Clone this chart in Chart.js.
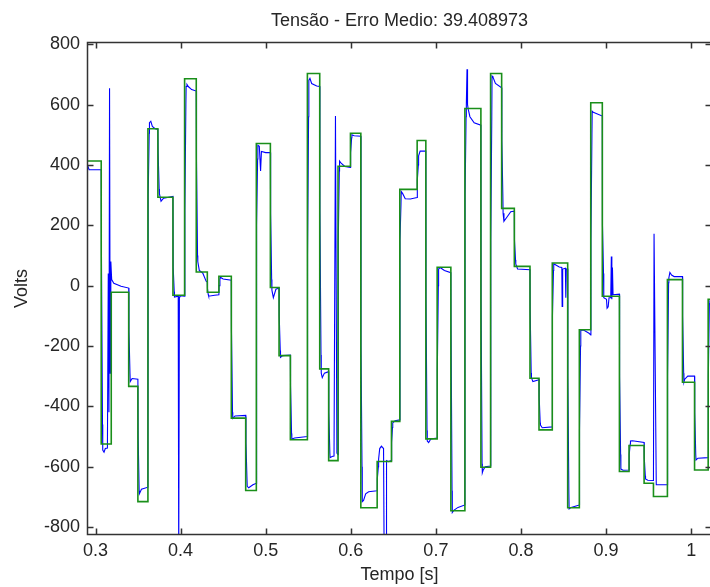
<!DOCTYPE html>
<html>
<head>
<meta charset="utf-8">
<script src="https://cdn.jsdelivr.net/npm/chart.js@4.4.0/dist/chart.umd.min.js"></script>
<style>
  html, body { margin: 0; padding: 0; background: #fff; overflow: hidden; }
  #wrap { width: 710px; height: 587px; overflow: hidden; }
</style>
</head>
<body>
<div id="wrap"><canvas id="myCanvas" width="714" height="587"></canvas></div>
<script>
// reference (green): step start times [s] and levels [V]
var refTimes = [
  0.2900, 0.3067, 0.3185, 0.3390, 0.3498, 0.3616, 0.3733, 0.3910, 0.4047, 0.4184,
  0.4314, 0.4450, 0.4596, 0.4765, 0.4890, 0.5055, 0.5157, 0.5290, 0.5490, 0.5635,
  0.5740, 0.5850, 0.5996, 0.6118, 0.6310, 0.6478, 0.6576, 0.6780, 0.6882, 0.7015,
  0.7176, 0.7341, 0.7529, 0.7643, 0.7773, 0.7922, 0.8106, 0.8212, 0.8368, 0.8549,
  0.8686, 0.8820, 0.8956, 0.9157, 0.9270, 0.9447, 0.9557, 0.9721, 0.9898, 1.0040,
  1.0200, 1.0300
];
var refVolts = [
  413, -525, -22, -334, -716, 520, 293, -32, 686, 45,
  -22, 31, -439, -679, 471, -6, -232, -511, 703, -276,
  -580, 396, 505, -736, -583, -450, 319, 481, -508, 61,
  -746, 587, -602, 703, 256, 64, -307, -478, 75, -736,
  -146, 606, -35, -616, -530, -655, -699, 20, -320, -611,
  -45, -45
];

// measured (blue) voltage samples
var measTimes = [
  0.2900, 0.2910, 0.2925, 0.3067,
  0.3070, 0.3082, 0.3085, 0.3100, 0.3115, 0.3140,
  0.3150, 0.3158, 0.3165, 0.3172, 0.3180, 0.3190, 0.3215, 0.3300,
  0.3390, 0.3393, 0.3405, 0.3408, 0.3430, 0.3498,
  0.3501, 0.3513, 0.3516, 0.3540, 0.3616,
  0.3619, 0.3631, 0.3634, 0.3650, 0.3668, 0.3700, 0.3733,
  0.3736, 0.3748, 0.3751, 0.3770, 0.3800, 0.3910,
  0.3913, 0.3925, 0.3928, 0.3972, 0.3978, 0.3986, 0.4000, 0.4047,
  0.4050, 0.4062, 0.4065, 0.4075, 0.4090, 0.4130, 0.4184,
  0.4187, 0.4199, 0.4202, 0.4220, 0.4260, 0.4300, 0.4314,
  0.4316, 0.4325, 0.4330, 0.4400, 0.4450,
  0.4452, 0.4462, 0.4466, 0.4500, 0.4596,
  0.4598, 0.4610, 0.4613, 0.4640, 0.4765,
  0.4768, 0.4780, 0.4783, 0.4800, 0.4850, 0.4890,
  0.4893, 0.4905, 0.4908, 0.4925, 0.4940, 0.4950, 0.5000, 0.5055,
  0.5058, 0.5070, 0.5073, 0.5090, 0.5120, 0.5157,
  0.5159, 0.5171, 0.5174, 0.5200, 0.5290,
  0.5292, 0.5304, 0.5307, 0.5340, 0.5490,
  0.5492, 0.5504, 0.5507, 0.5520, 0.5540, 0.5600, 0.5635,
  0.5637, 0.5650, 0.5653, 0.5665, 0.5690, 0.5740,
  0.5742, 0.5754, 0.5757, 0.5780, 0.5803, 0.5820, 0.5837, 0.5850,
  0.5853, 0.5865, 0.5868, 0.5890, 0.5930, 0.5996,
  0.5998, 0.6010, 0.6013, 0.6040, 0.6118,
  0.6120, 0.6132, 0.6135, 0.6150, 0.6175, 0.6210, 0.6310,
  0.6312, 0.6324, 0.6327, 0.6340, 0.6360, 0.6385, 0.6392, 0.6415, 0.6420, 0.6440, 0.6478,
  0.6480, 0.6490, 0.6493, 0.6520, 0.6576,
  0.6578, 0.6590, 0.6593, 0.6610, 0.6640, 0.6700, 0.6780,
  0.6782, 0.6794, 0.6797, 0.6815, 0.6882,
  0.6884, 0.6896, 0.6899, 0.6915, 0.6940, 0.7015,
  0.7017, 0.7029, 0.7032, 0.7050, 0.7100, 0.7176,
  0.7178, 0.7190, 0.7193, 0.7210, 0.7260, 0.7341,
  0.7343, 0.7355, 0.7358, 0.7366, 0.7372, 0.7380, 0.7400, 0.7450, 0.7529,
  0.7531, 0.7543, 0.7546, 0.7555, 0.7580, 0.7643,
  0.7645, 0.7657, 0.7660, 0.7670, 0.7700, 0.7773,
  0.7775, 0.7787, 0.7790, 0.7800, 0.7830, 0.7880, 0.7922,
  0.7924, 0.7936, 0.7939, 0.7960, 0.8106,
  0.8108, 0.8120, 0.8123, 0.8140, 0.8212,
  0.8214, 0.8226, 0.8229, 0.8250, 0.8368,
  0.8370, 0.8382, 0.8385, 0.8400, 0.8450, 0.8480, 0.8484, 0.8490, 0.8522, 0.8527, 0.8533, 0.8549,
  0.8551, 0.8563, 0.8566, 0.8590, 0.8686,
  0.8688, 0.8700, 0.8703, 0.8740, 0.8800, 0.8820,
  0.8822, 0.8834, 0.8837, 0.8850, 0.8956,
  0.8958, 0.8970, 0.8973, 0.9005, 0.9012, 0.9025, 0.9035, 0.9055, 0.9062, 0.9068, 0.9075, 0.9082, 0.9157,
  0.9159, 0.9171, 0.9174, 0.9200, 0.9270,
  0.9272, 0.9284, 0.9287, 0.9310, 0.9447,
  0.9449, 0.9461, 0.9464, 0.9490, 0.9557,
  0.9564, 0.9590, 0.9721,
  0.9723, 0.9735, 0.9738, 0.9750, 0.9770, 0.9800, 0.9898,
  0.9900, 0.9912, 0.9915, 0.9925, 0.9960, 1.0040,
  1.0042, 1.0054, 1.0057, 1.0080, 1.0200,
  1.0202, 1.0214, 1.0220, 1.0300
];
var measVolts = [
  398, 396, 384, 384,
  100, -460, -545, -552, -540, -538,
  40, -420, 654, -290, 80, 20, 8, -2,
  -8, -150, -290, -318, -308, -310,
  -500, -680, -690, -675, -668,
  300, 505, 540, 545, 528, 520, 518,
  440, 320, 305, 280, 290, 296,
  60, -20, -38, -35, -900, -40, -33, -35,
  250, 600, 660, 667, 660, 650, 645,
  420, 100, 80, 50, 42, 15, 12,
  -10, -30, -35, -32, -30,
  0, 20, 28, 22, 18,
  -150, -420, -440, -432, -430,
  -520, -640, -665, -670, -660, -655,
  200, 420, 465, 462, 380, 445, 441, 441,
  240, 20, -15, -40, -12, -8,
  -100, -215, -238, -232, -230,
  -330, -490, -508, -505, -500,
  100, 560, 680, 687, 670, 662, 660,
  250, -230, -290, -305, -290, -285,
  -420, -555, -570, -566, -565, 562, -555, -560,
  150, 380, 413, 405, 395, 392,
  440, 490, 500, 497, 495,
  -200, -600, -716, -712, -690, -683, -680,
  -640, -600, -575, -540, -532, -540, -900, -900, -580, -583, -580,
  -520, -470, -455, -448, -445,
  150, 270, 312, 305, 288, 287, 292,
  350, 400, 430, 446, 446,
  -50, -480, -515, -520, -508, -505,
  -280, 0, 55, 60, 50, 43,
  -130, -680, -752, -745, -735, -727,
  300, 560, 600, 717, 600, 585, 560, 540, 532,
  -50, -590, -620, -612, -600, -598,
  150, 560, 695, 692, 670, 656,
  480, 300, 240, 213, 225, 245, 247,
  150, 85, 72, 55, 53,
  -80, -290, -305, -318, -312,
  -370, -455, -462, -471, -468,
  -100, 50, 72, 70, 62, 60, -69, 55, 58, -40, 55, 55,
  -300, -690, -740, -735, -727,
  -480, -200, -147, -148, -158, -163,
  150, 500, 578, 575, 562,
  200, 40, -40, -45, -75, -70, -40, -40, 97, -45, 60, -30, -28,
  -300, -560, -608, -612, -611,
  -560, -525, -515, -514, -520,
  -570, -630, -641, -645, -646,
  172, -660, -660,
  -300, 10, 26, 44, 35, 30, 30,
  -100, -290, -320, -310, -300, -300,
  -420, -560, -578, -572, -570,
  -300, -60, -50, -45
];

var xTickValues = [0.3, 0.4, 0.5, 0.6, 0.7, 0.8, 0.9, 1.0];
var xTickLabels = ['0.3', '0.4', '0.5', '0.6', '0.7', '0.8', '0.9', '1'];
var yTickValues = [-800, -600, -400, -200, 0, 200, 400, 600, 800];
var yTickLabels = ['-800', '-600', '-400', '-200', '0', '200', '400', '600', '800'];

var font = { family: "'Liberation Sans', Arial, Helvetica, sans-serif", size: 18 };
var textColor = '#262626';

// MATLAB style box with inward ticks on all four sides
var boxAxes = {
  id: 'boxAxes',
  afterDraw: function(chart) {
    var ctx = chart.ctx, a = chart.chartArea;
    var xs = chart.scales.x, ys = chart.scales.y;
    var L = Math.round(a.left) + 0.5, R = Math.round(a.right) - 0.5;
    var T = Math.round(a.top) + 0.5, B = Math.round(a.bottom) - 0.5;
    var len = 6;
    ctx.save();
    ctx.strokeStyle = '#333333';
    ctx.lineWidth = 1.5;
    ctx.strokeRect(L, T, R - L, B - T);
    ctx.beginPath();
    xs.ticks.forEach(function(t) {
      var px = Math.round(xs.getPixelForValue(t.value)) + 0.5;
      ctx.moveTo(px, B); ctx.lineTo(px, B - len);
      ctx.moveTo(px, T); ctx.lineTo(px, T + len);
    });
    ys.ticks.forEach(function(t) {
      var py = Math.round(ys.getPixelForValue(t.value)) + 0.5;
      ctx.moveTo(L, py); ctx.lineTo(L + len, py);
      ctx.moveTo(R, py); ctx.lineTo(R - len, py);
    });
    ctx.stroke();
    ctx.restore();
  }
};

var refPoints = refTimes.map(function(t, i) { return { x: t, y: refVolts[i] }; });
var measPoints = measTimes.map(function(t, i) { return { x: t, y: measVolts[i] }; });

var ctx = document.getElementById('myCanvas');

var chart = new Chart(ctx, {
  type: 'line',
  data: {
    datasets: [
      {
        label: 'Referencia',
        data: refPoints,
        borderColor: '#1a8f1a',
        borderWidth: 1.6,
        stepped: true,
        pointRadius: 0,
        fill: false
      }, {
        label: 'Medido',
        data: measPoints,
        borderColor: '#0000ff',
        borderWidth: 1.1,
        pointRadius: 0,
        tension: 0,
        fill: false
      }
    ]
  },
  options: {
    responsive: false,
    devicePixelRatio: 1,
    animation: false,
    layout: { padding: { left: 0, right: 2, top: 0, bottom: 0 } },
    plugins: {
      legend: { display: false },
      tooltip: { enabled: false },
      title: {
        display: true,
        text: 'Tensão - Erro Medio: 39.408973',
        color: textColor,
        font: { family: font.family, size: 18, weight: 'normal' },
        fullSize: false,
        padding: { top: 10.6, bottom: 9.8 }
      }
    },
    scales: {
      x: {
        type: 'linear',
        min: 0.29,
        max: 1.0245,
        grid: { display: false, drawTicks: false },
        border: { display: false },
        afterBuildTicks: function(scale) {
          scale.ticks = xTickValues.map(function(v) { return { value: v }; });
        },
        afterFit: function(scale) { scale.height = 52; },
        ticks: {
          autoSkip: false,
          maxRotation: 0,
          padding: 5,
          color: textColor,
          font: font,
          callback: function(value, index) { return xTickLabels[index]; }
        },
        title: {
          display: true,
          text: 'Tempo [s]',
          color: textColor,
          font: font,
          padding: { top: 0, bottom: 1.5 }
        }
      },
      y: {
        type: 'linear',
        min: -826.5,
        max: 807.6,
        grid: { display: false, drawTicks: false },
        border: { display: false },
        afterBuildTicks: function(scale) {
          scale.ticks = yTickValues.map(function(v) { return { value: v }; });
        },
        afterFit: function(scale) { scale.width = 87; },
        ticks: {
          autoSkip: false,
          padding: 7,
          color: textColor,
          font: font,
          callback: function(value, index) { return yTickLabels[index]; }
        },
        title: {
          display: true,
          text: 'Volts',
          color: textColor,
          font: font,
          padding: { top: 10.9, bottom: 0 }
        }
      }
    }
  },
  plugins: [boxAxes]
});
</script>
</body>
</html>
